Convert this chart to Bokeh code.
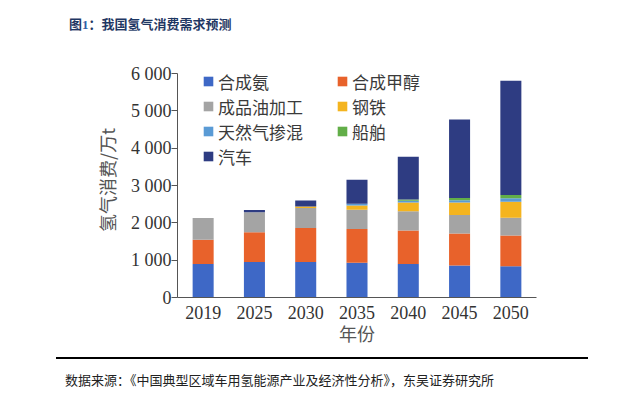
from bokeh.plotting import figure
from bokeh.layouts import column
from bokeh.models import (ColumnDataSource, FactorRange, Range1d, FixedTicker, Legend,
                          LegendItem, Div)
from bokeh.embed import file_html
from bokeh.resources import INLINE

years = ["2019", "2025", "2030", "2035", "2040", "2045", "2050"]
series = ["合成氨", "合成甲醇", "成品油加工", "钢铁", "天然气掺混", "船舶", "汽车"]
ammonia = [900, 950, 950, 930, 900, 860, 840]
methanol = [650, 800, 910, 905, 895, 855, 820]
refining = [580, 535, 540, 520, 515, 500, 475]
steel = [0, 0, 40, 110, 235, 335, 435]
gas_blend = [0, 0, 0, 45, 50, 55, 90]
ships = [0, 0, 0, 0, 30, 60, 90]
vehicles = [0, 60, 160, 650, 1150, 2110, 3060]
colors = ["#3E68C6", "#E8622B", "#A4A4A4", "#F4B41F", "#5A9BD5", "#62AE48", "#2E3C82"]
y_ticks = [0, 1000, 2000, 3000, 4000, 5000, 6000]
y_tick_labels = ["0", "1 000", "2 000", "3 000", "4 000", "5 000", "6 000"]
title_parts = ["图", "1", "：我国氢气消费需求预测"]
source_text = "数据来源：《中国典型区域车用氢能源产业及经济性分析》，东吴证券研究所"

W = 616
TOP_PAD = 10
TOP_H = 30                           # caption strip height (content + padding)
H = 352 - TOP_H                      # chart height
FL, FR = 177, 536                    # frame left / right (px)
FB = 297 - TOP_H                     # frame bottom inside the chart (px)
Y_AXIS_TOP = 73 - TOP_H              # pixel of the 6000 tick inside the chart
Y_MAX, Y_RANGE_END = 6000, 6300
frame_top = round(FB - (FB - Y_AXIS_TOP) * Y_RANGE_END / Y_MAX)

data = {"year": years}
for name, vals in zip(series, [ammonia, methanol, refining, steel, gas_blend, ships, vehicles]):
    data[name] = vals
src = ColumnDataSource(data)

p = figure(x_range=FactorRange(*years, range_padding=0), y_range=Range1d(0, Y_RANGE_END),
           width=W, height=H, output_backend="svg", toolbar_location=None,
           min_border_left=FL, min_border_right=W - FR, min_border_top=frame_top,
           min_border_bottom=H - FB)

renderers = p.vbar_stack(series, x="year", width=0.41, color=colors, source=src, line_width=0)

p.xgrid.grid_line_color = None
p.ygrid.grid_line_color = None
p.outline_line_color = None

p.yaxis.ticker = FixedTicker(ticks=y_ticks)
p.yaxis.bounds = (0, Y_MAX)
p.yaxis.major_label_overrides = {t: l for t, l in zip(y_ticks, y_tick_labels)}
p.yaxis.minor_tick_line_color = None
p.yaxis.major_tick_out = 6
p.yaxis.major_tick_in = 0
p.yaxis.major_label_standoff = 0
p.yaxis.axis_label = "氢气消费/万t"
p.yaxis.axis_label_standoff = 8
for ax in (p.xaxis, p.yaxis):
    ax.axis_line_color = "#555555"
    ax.major_tick_line_color = "#555555"
    ax.major_label_text_font = "Liberation Serif"
    ax.major_label_text_font_size = "18px"
    ax.major_label_text_color = "#333333"
    ax.axis_label_text_font = "Noto Sans CJK SC"
    ax.axis_label_text_font_size = "18px"
    ax.axis_label_text_font_style = "normal"
    ax.axis_label_text_color = "#555555"
p.xaxis.major_tick_out = 0
p.xaxis.major_tick_in = 0
p.xaxis.major_label_standoff = 8
p.xaxis.axis_label = "年份"
p.xaxis.axis_label_standoff = -2

# legend: two columns, one entry per Legend so the rows can be placed exactly
legend_cols = [25, 159, 25, 159, 25, 159, 25]
legend_rows = [81, 81, 106, 106, 131, 131, 156]      # row centres on the page (px)
ITEM_H = 25
for i in range(len(series)):
    leg = Legend(items=[LegendItem(label=series[i], renderers=[renderers[i]])],
                 location=(legend_cols[i], 297 - legend_rows[i] - ITEM_H / 2),
                 padding=0, margin=0, spacing=0,
                 glyph_width=12, glyph_height=12, label_standoff=4, label_height=ITEM_H,
                 label_text_font="Noto Sans CJK SC",
                 label_text_font_size="17px", label_text_color="#3a3a3a",
                 background_fill_alpha=0, border_line_color=None)
    p.add_layout(leg)

caption = Div(text=(f'{title_parts[0]}<span style="font-family:\'Liberation Serif\';'
                    f'color:#2F5FA8">{title_parts[1]}</span>{title_parts[2]}'),
              width=W, height=TOP_H - TOP_PAD,
              styles={"padding-top": f"{TOP_PAD}px",
                      "padding-left": "64px", "font-family": "Noto Sans CJK SC",
                      "font-weight": "bold", "font-size": "13px", "line-height": "18px",
                      "color": "#1F3763", "white-space": "nowrap"})

footer = Div(text=source_text, width=W, height=20,
             styles={"margin-left": "56px", "width": "532px",
                     "border-top": "2px solid #000000", "margin-top": "5px",
                     "padding-top": "13px", "padding-left": "9px",
                     "font-family": "Noto Sans CJK SC", "font-size": "13px",
                     "line-height": "1.2", "color": "#222222", "white-space": "nowrap"})

layout = column(caption, p, footer, spacing=0)
open("out.html", "w").write(file_html(layout, INLINE))
